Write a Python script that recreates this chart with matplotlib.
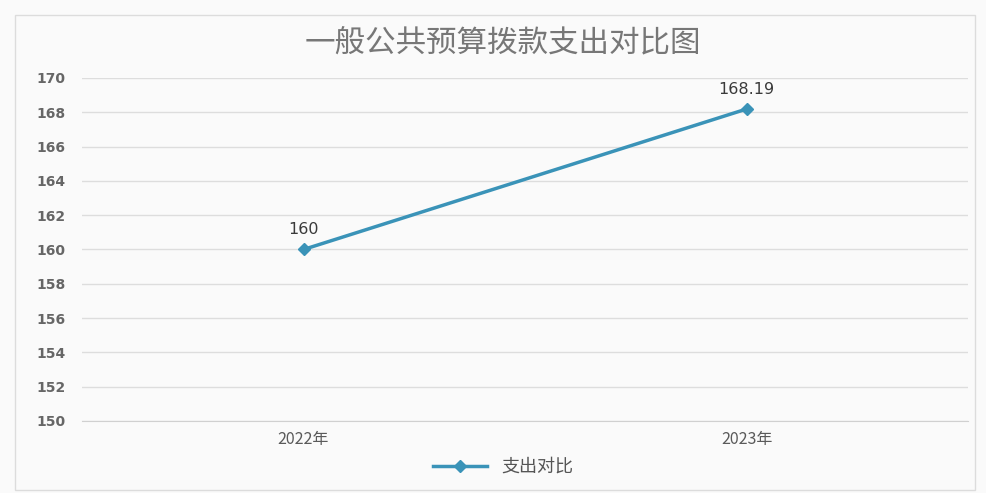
import matplotlib.pyplot as plt
from matplotlib.patches import Rectangle

plt.rcParams['font.family'] = ['Noto Sans CJK SC', 'DejaVu Sans']

years = ['2022年', '2023年']
spending = [160, 168.19]
labels = ['160', '168.19']
yticks = [150, 152, 154, 156, 158, 160, 162, 164, 166, 168, 170]

fig = plt.figure(figsize=(9.87, 4.93), dpi=100)
fig.patch.set_facecolor('#fafafa')
# outer frame of the chart area
fig.patches.append(Rectangle((15/987, 3/493), 960/987, 475/493, transform=fig.transFigure,
                             fill=False, edgecolor='#dcdcdc', linewidth=1))

ax = fig.add_axes([82/987, 1-421/493, 886/987, 343/493])
ax.set_facecolor('#fafafa')
x = [0, 1]
ax.plot(x, spending, color='#3a93b8', linewidth=2.5, marker='D', markersize=6, label='支出对比')
for xi, v, t in zip(x, spending, labels):
    ax.text(xi, v + 0.7, t, ha='center', va='bottom', fontsize=11.5, color='#3a3a3a',
            family='DejaVu Sans')

ax.set_xlim(-0.5, 1.5)
ax.set_ylim(150, 170)
ax.set_yticks(yticks)
ax.set_xticks(x)
ax.set_xticklabels(years, fontsize=11.5)
ax.tick_params(axis='both', length=0, colors='#5a5a5a')
ax.tick_params(axis='y', pad=12)
for lab in ax.get_yticklabels():
    lab.set_family('DejaVu Sans')
    lab.set_fontweight('bold')
    lab.set_fontsize(10)
    lab.set_color('#666666')
ax.tick_params(axis='x', pad=7)
ax.grid(axis='y', color='#dddddd', linewidth=1)
for s in ['top', 'right', 'left']:
    ax.spines[s].set_visible(False)
ax.spines['bottom'].set_color('#d0d0d0')
ax.set_axisbelow(True)

fig.text(0.51, 1-44/493, '一般公共预算拨款支出对比图', ha='center', va='center', fontsize=22,
         fontweight='light', color='#777777')
fig.legend(loc='center', bbox_to_anchor=(0.51, 1-467/493), frameon=False, fontsize=13,
           handlelength=3, labelcolor='#555555')

fig.savefig('out.png', dpi=100)
